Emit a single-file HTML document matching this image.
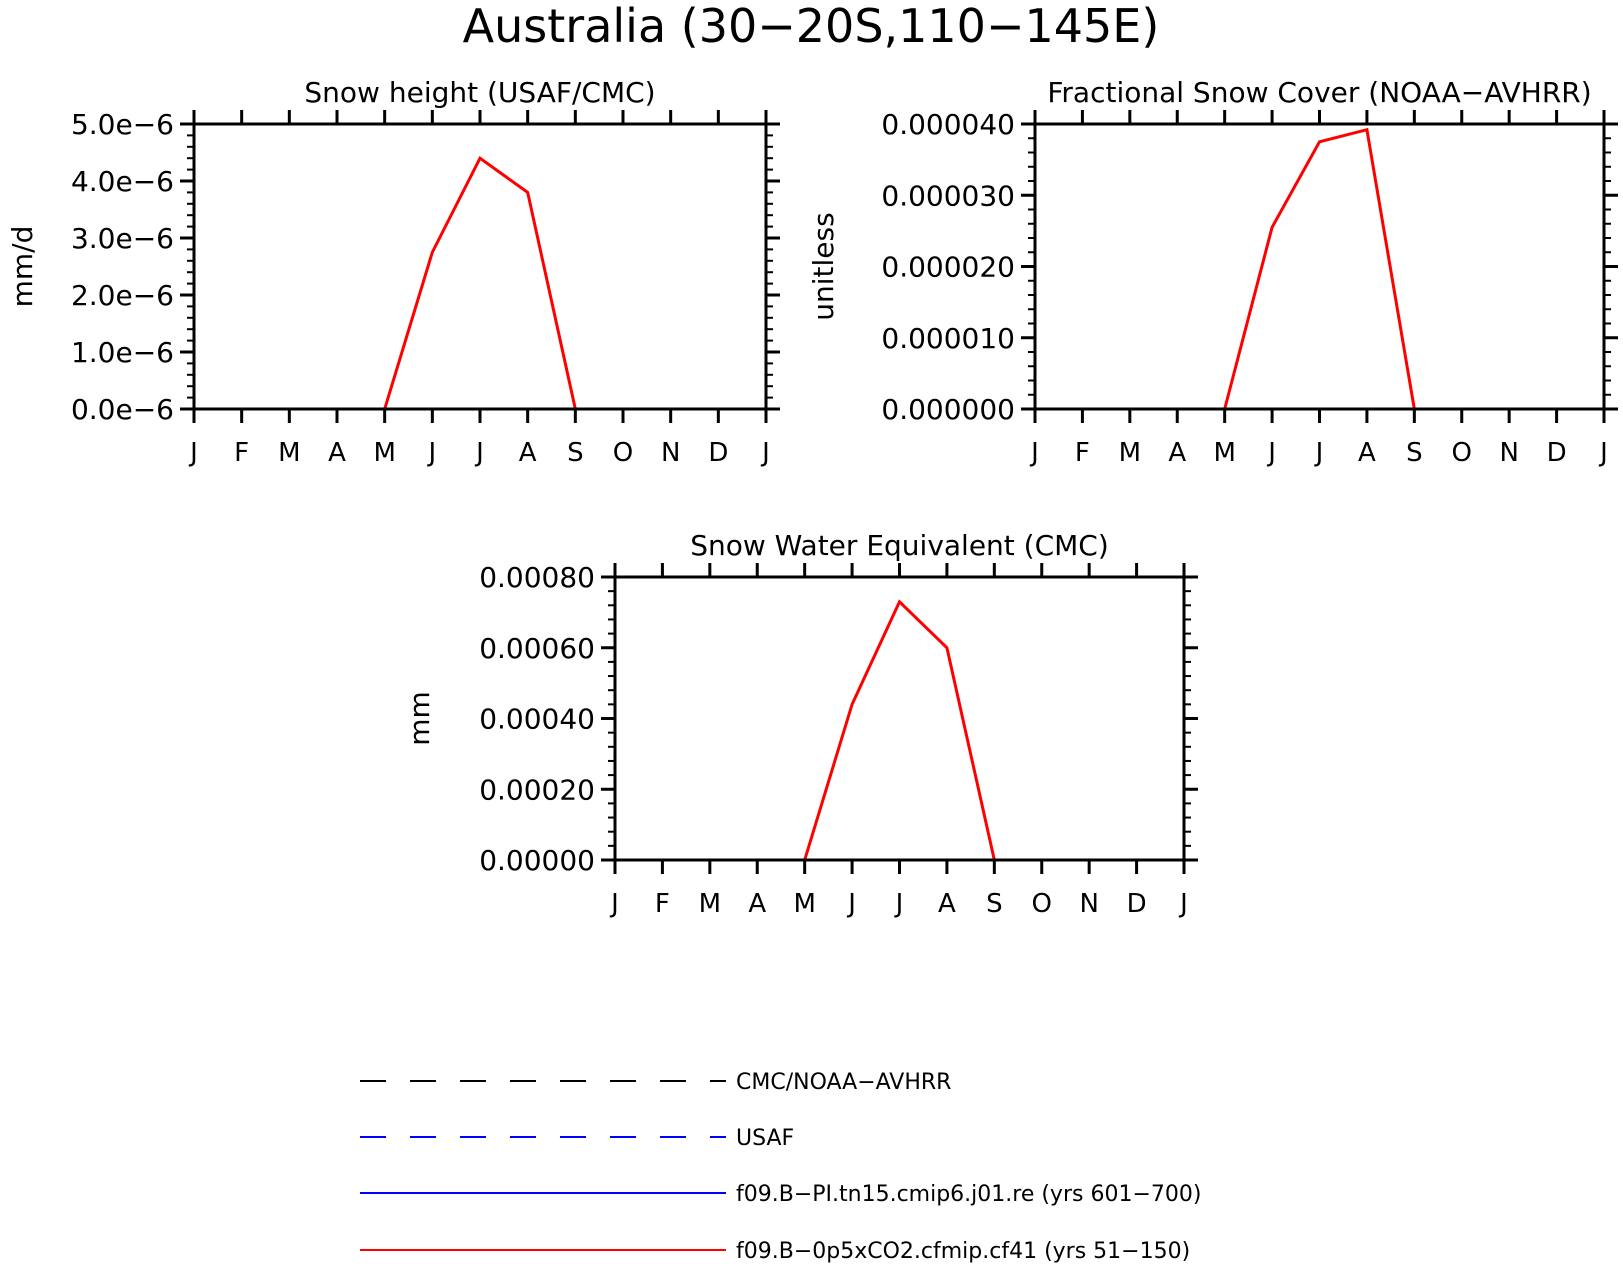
<!DOCTYPE html>
<html><head><meta charset="utf-8"><style>
body{margin:0;background:#fff}
svg{display:block;font-family:"DejaVu Sans","Liberation Sans",sans-serif}
</style></head><body>
<svg id="c" width="1623" height="1264" viewBox="0 0 1623 1264">
<text x="811" y="42" font-size="46" text-anchor="middle">Australia (30−20S,110−145E)</text>
</svg>
<script>
const months = ["J","F","M","A","M","J","J","A","S","O","N","D","J"];
const snowHeight = [0,0,0,0,0,2.75e-6,4.4e-6,3.8e-6,0,0,0,0,0];
const snowCover = [0,0,0,0,0,2.55e-5,3.75e-5,3.92e-5,0,0,0,0,0];
const swe = [0,0,0,0,0,0.00044,0.00073,0.00060,0,0,0,0,0];
const zeros = [0,0,0,0,0,0,0,0,0,0,0,0,0];
const ticks1 = ["0.0e−6","1.0e−6","2.0e−6","3.0e−6","4.0e−6","5.0e−6"];
const ticks2 = ["0.000000","0.000010","0.000020","0.000030","0.000040"];
const ticks3 = ["0.00000","0.00020","0.00040","0.00060","0.00080"];
const NS="http://www.w3.org/2000/svg";
const svg=document.getElementById('c');
function mk(tag,attrs,parent){const e=document.createElementNS(NS,tag);for(const k in attrs)e.setAttribute(k,attrs[k]);(parent||svg).appendChild(e);return e;}
function panel(id,L,R,T,B,title,ylabel,ylx,ymax,tickLabels,data){
  const g=mk('g',{});
  
  
  const xs=i=>L+(R-L)*i/12;
  const ys=v=>B-(B-T)*v/ymax;
  const n=tickLabels.length-1;
  const t=mk('text',{x:(L+R)/2,y:T-22,'font-size':28,'text-anchor':'middle'},g);t.textContent=title;
  
  
  const yl=mk('text',{x:ylx,y:(T+B)/2,'font-size':28,'text-anchor':'middle',transform:`rotate(-90 ${ylx} ${(T+B)/2})`},g);yl.textContent=ylabel;
  
  
  // x ticks
  months.forEach((m,i)=>{
    const x=xs(i);
    mk('line',{x1:x,x2:x,y1:B,y2:B+14,stroke:'#000','stroke-width':3},g);
    mk('line',{x1:x,x2:x,y1:T,y2:T-14,stroke:'#000','stroke-width':3},g);
    const tx=mk('text',{x:x,y:B+52,'font-size':26,'text-anchor':'middle'},g);tx.textContent=m;
    
    
  });
  // y ticks
  for(let k=0;k<=n*5;k++){
    const v=ymax*k/(n*5);const y=ys(v);const maj=k%5===0;const len=maj?14:7;
    mk('line',{x1:L-len,x2:L,y1:y,y2:y,stroke:'#000','stroke-width':maj?3:2},g);
    mk('line',{x1:R,x2:R+len,y1:y,y2:y,stroke:'#000','stroke-width':maj?3:2},g);
    if(maj){const ty=mk('text',{x:L-20,y:y+10,'font-size':28,'text-anchor':'end'},g);ty.textContent=tickLabels[k/5];
      
      }
  }
  const pts=a=>a.map((v,i)=>xs(i)+','+ys(v)).join(' ');
  const bl=mk('polyline',{points:pts(zeros),fill:'none',stroke:'#00f','stroke-width':2},g);
  
  
  const rl=mk('polyline',{points:pts(data),fill:'none',stroke:'#f00','stroke-width':3},g);
  
  
  const fr=mk('rect',{x:L,y:T,width:R-L,height:B-T,fill:'none',stroke:'#000','stroke-width':3},g);
  
  
}
panel('snow-height',194,766,124,409,'Snow height (USAF/CMC)','mm/d',32,5e-6,ticks1,snowHeight);
panel('snow-cover',1035,1604,124,409,'Fractional Snow Cover (NOAA−AVHRR)','unitless',833,4e-5,ticks2,snowCover);
panel('swe',615,1184,577,860,'Snow Water Equivalent (CMC)','mm',429,0.0008,ticks3,swe);
// legend
const legItems=[["CMC/NOAA−AVHRR","#000",true],["USAF","#00f",true],["f09.B−PI.tn15.cmip6.j01.re (yrs 601−700)","#00f",false],["f09.B−0p5xCO2.cfmip.cf41 (yrs 51−150)","#f00",false]];
const ly=[1081,1137,1193,1250];
legItems.forEach((it,i)=>{
  const g=mk('g',{});
  
  
  const ln=mk('line',{x1:360,x2:726,y1:ly[i],y2:ly[i],stroke:it[1],'stroke-width':2},g);
  if(it[2])ln.setAttribute('stroke-dasharray','26 24');
  const t=mk('text',{x:736,y:ly[i]+8,'font-size':22},g);t.textContent=it[0];
});
</script>
</body></html>
